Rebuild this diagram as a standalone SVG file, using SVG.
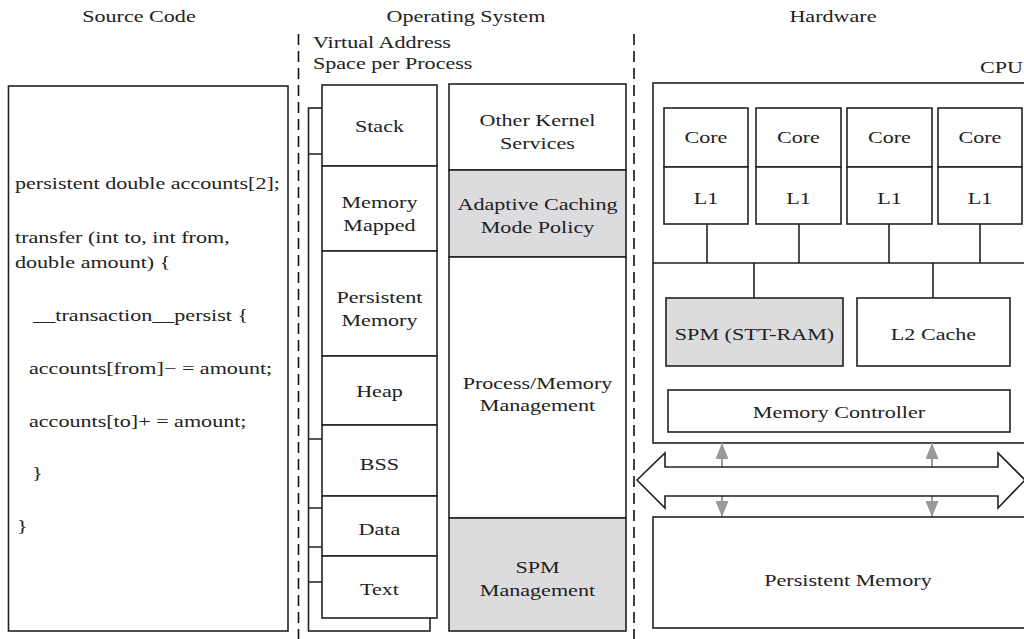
<svg xmlns="http://www.w3.org/2000/svg" width="1024" height="639" viewBox="0 0 1024 639">
  <style>
    .box { fill: #fff; stroke: #222; stroke-width: 1.6; }
    .hl { fill: #dcdcde; }
    .ln { fill: none; stroke: #222; stroke-width: 1.6; }
    .dash { fill: none; stroke: #111; stroke-width: 1.6; stroke-dasharray: 11 6; }
    .gray { fill: none; stroke: #999; stroke-width: 2; marker-start: url(#gh); marker-end: url(#gh); }
    .t { font-family: "Liberation Serif", "Times New Roman", serif; font-size: 17px; fill: #222;
         text-anchor: middle; transform-box: fill-box; transform-origin: center; transform: scaleX(1.3); }
    .l { text-anchor: start; transform-origin: left center; }
  </style>
  <defs>
    <marker id="gh" viewBox="0 0 16 13" refX="16" refY="6.5" markerWidth="16" markerHeight="13"
            markerUnits="userSpaceOnUse" orient="auto-start-reverse">
      <path d="M0,0 L16,6.5 L0,13 z" fill="#999"/>
    </marker>
  </defs>
  <rect width="1024" height="639" fill="#fff"/>

  <!-- column headings and separators -->
  <g id="headings">
    <text class="t" x="139" y="22">Source Code</text>
    <text class="t" x="466" y="22">Operating System</text>
    <text class="t" x="833" y="22">Hardware</text>
    <line class="dash" x1="298.5" y1="34" x2="298.5" y2="639"/>
    <line class="dash" x1="634" y1="34" x2="634" y2="639"/>
  </g>

  <!-- source code listing -->
  <g id="source-code">
    <rect class="box" x="8.5" y="86" width="279.5" height="545"/>
    <text class="t l" x="15" y="189">persistent double accounts[2];</text>
    <text class="t l" x="15" y="243">transfer (int to, int from,</text>
    <text class="t l" x="15" y="268">double amount) {</text>
    <text class="t l" x="33" y="321">__transaction__persist {</text>
    <text class="t l" x="29" y="374">accounts[from]− = amount;</text>
    <text class="t l" x="29" y="427">accounts[to]+ = amount;</text>
    <text class="t l" x="32" y="479">}</text>
    <text class="t l" x="17" y="532">}</text>
  </g>

  <!-- virtual address space -->
  <g id="address-space">
    <text class="t l" x="313" y="48">Virtual Address</text>
    <text class="t l" x="313" y="69">Space per Process</text>
    <!-- page behind -->
    <rect class="box" x="308.5" y="108" width="121.5" height="523"/>
    <path class="ln" d="M308.5,154 H322 M308.5,439 H322 M308.5,508 H322 M308.5,547 H322 M308.5,582 H322"/>
    <!-- front page segments -->
    <g id="seg-stack"><rect class="box" x="322" y="85" width="115" height="81"/>
      <text class="t" x="379.5" y="132">Stack</text></g>
    <g id="seg-mmap"><rect class="box" x="322" y="166" width="115" height="85"/>
      <text class="t" x="379.5" y="208">Memory</text><text class="t" x="379.5" y="231">Mapped</text></g>
    <g id="seg-pmem"><rect class="box" x="322" y="251" width="115" height="105"/>
      <text class="t" x="379.5" y="303">Persistent</text><text class="t" x="379.5" y="326">Memory</text></g>
    <g id="seg-heap"><rect class="box" x="322" y="356" width="115" height="69"/>
      <text class="t" x="379.5" y="397">Heap</text></g>
    <g id="seg-bss"><rect class="box" x="322" y="425" width="115" height="71"/>
      <text class="t" x="379.5" y="470">BSS</text></g>
    <g id="seg-data"><rect class="box" x="322" y="496" width="115" height="60"/>
      <text class="t" x="379.5" y="535">Data</text></g>
    <g id="seg-text"><rect class="box" x="322" y="556" width="115" height="62"/>
      <text class="t" x="379.5" y="595">Text</text></g>
  </g>

  <!-- kernel services -->
  <g id="kernel">
    <g id="k-other"><rect class="box" x="449" y="84" width="177" height="86"/>
      <text class="t" x="537.5" y="126">Other Kernel</text><text class="t" x="537.5" y="149">Services</text></g>
    <g id="k-adaptive"><rect class="box hl" x="449" y="170" width="177" height="87"/>
      <text class="t" x="537.5" y="210">Adaptive Caching</text><text class="t" x="537.5" y="233">Mode Policy</text></g>
    <g id="k-procmem"><rect class="box" x="449" y="257" width="177" height="261"/>
      <text class="t" x="537.5" y="389">Process/Memory</text><text class="t" x="537.5" y="411">Management</text></g>
    <g id="k-spm"><rect class="box hl" x="449" y="518" width="177" height="113"/>
      <text class="t" x="537.5" y="573">SPM</text><text class="t" x="537.5" y="596">Management</text></g>
  </g>

  <!-- CPU -->
  <g id="cpu">
    <text class="t l" x="980" y="73">CPU</text>
    <rect class="box" x="653" y="83" width="380" height="360"/>
  </g>

  <g id="connectors">
    <path class="ln" d="M707,224 V263 M799,224 V263 M889,224 V263 M980,224 V263 M653,263 H1030 M754,263 V298 M933,263 V298"/>
    <line class="gray" x1="722" y1="443" x2="722" y2="517"/>
    <line class="gray" x1="932" y1="443" x2="932" y2="517"/>
  </g>

  <g id="core1"><rect class="box" x="664" y="108" width="84" height="59"/><rect class="box" x="664" y="167" width="84" height="57"/>
    <text class="t" x="706" y="143">Core</text><text class="t" x="706" y="204">L1</text></g>
  <g id="core2"><rect class="box" x="756" y="108" width="85" height="59"/><rect class="box" x="756" y="167" width="85" height="57"/>
    <text class="t" x="798.5" y="143">Core</text><text class="t" x="798.5" y="204">L1</text></g>
  <g id="core3"><rect class="box" x="847" y="108" width="85" height="59"/><rect class="box" x="847" y="167" width="85" height="57"/>
    <text class="t" x="889.5" y="143">Core</text><text class="t" x="889.5" y="204">L1</text></g>
  <g id="core4"><rect class="box" x="938" y="108" width="84" height="59"/><rect class="box" x="938" y="167" width="84" height="57"/>
    <text class="t" x="980" y="143">Core</text><text class="t" x="980" y="204">L1</text></g>

  <g id="spm"><rect class="box hl" x="666" y="298" width="177" height="68"/>
    <text class="t" x="754.5" y="340">SPM (STT-RAM)</text></g>
  <g id="l2"><rect class="box" x="857" y="298" width="153" height="68"/>
    <text class="t" x="933.5" y="340">L2 Cache</text></g>
  <g id="memctrl"><rect class="box" x="668" y="390" width="342" height="42"/>
    <text class="t" x="839" y="418">Memory Controller</text></g>

  <!-- memory bus -->
  <g id="bus">
    <polygon class="box" points="637,480 665,453 665,467 998,467 998,453 1025,480 998,508 998,496 665,496 665,508"/>
  </g>

  <g id="pmem"><rect class="box" x="653" y="517" width="380" height="111"/>
    <text class="t" x="848" y="586">Persistent Memory</text></g>
</svg>
